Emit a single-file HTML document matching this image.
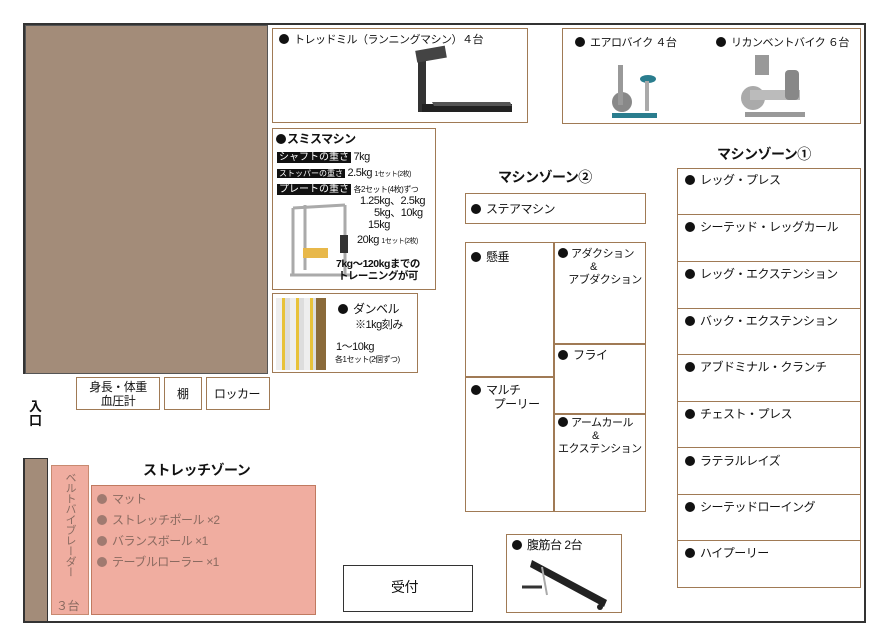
<!DOCTYPE html>
<html><head><meta charset="utf-8"><style>
*{margin:0;padding:0;box-sizing:border-box}
body{width:890px;height:643px;background:#fff;position:relative;overflow:hidden;font-family:"Liberation Sans","Noto Sans CJK JP",sans-serif;color:#111}
.a{position:absolute}
.b{position:absolute;border:1.5px solid #a07a55;background:#fff}
.t{position:absolute;font-size:12px;white-space:nowrap;line-height:14px;letter-spacing:-0.5px}
.dot{display:inline-block;width:10px;height:10px;border-radius:50%;background:#111;margin-right:5px;vertical-align:-1px}
.lab{background:#111;color:#fff;padding:0 2px;font-size:10px;letter-spacing:0}
.row{position:absolute;left:0;width:100%;border-top:1.5px solid #a07a55}
</style></head><body>
<div class="a" style="left:23px;top:23px;width:843px;height:600px;border:2px solid #333"></div>
<div class="a" style="left:20px;top:374px;width:6px;height:84px;background:#fff"></div>
<div class="a" style="left:25px;top:25px;width:243px;height:349px;background:#a38c79;border:1px solid #555"></div>
<div class="a" style="left:24px;top:458px;width:24px;height:164px;background:#a38c79;border:1px solid #333"></div>
<div class="t" style="left:29px;top:400px;font-weight:bold;font-size:13px;line-height:14px">入<br>口</div>

<div class="b" style="left:272px;top:28px;width:256px;height:95px"></div>
<div class="t" style="left:279px;top:33px;font-size:11px"><span class="dot"></span>トレッドミル（ランニングマシン）４台</div>
<svg class="a" style="left:412px;top:44px" width="105" height="72"><rect x="6" y="10" width="8" height="58" fill="#333"/><rect x="4" y="4" width="30" height="12" fill="#444" transform="rotate(-10 20 10)"/><polygon points="10,60 100,60 100,68 10,68" fill="#222"/><polygon points="20,58 98,58 100,62 22,62" fill="#555"/></svg>

<div class="b" style="left:562px;top:28px;width:299px;height:96px"></div>
<div class="t" style="left:575px;top:36px;font-size:11px"><span class="dot"></span>エアロバイク ４台</div>
<div class="t" style="left:716px;top:36px;font-size:11px"><span class="dot"></span>リカンベントバイク ６台</div>
<svg class="a" style="left:600px;top:55px" width="65" height="65"><circle cx="22" cy="47" r="10" fill="#888"/><rect x="18" y="10" width="5" height="40" fill="#999"/><ellipse cx="48" cy="24" rx="8" ry="4" fill="#2a7d8e"/><rect x="12" y="58" width="45" height="5" fill="#2a7d8e"/><rect x="45" y="26" width="4" height="30" fill="#aaa"/></svg>
<svg class="a" style="left:735px;top:50px" width="80" height="70"><rect x="20" y="5" width="14" height="20" fill="#999"/><circle cx="18" cy="48" r="12" fill="#aaa"/><rect x="15" y="40" width="50" height="10" fill="#bbb"/><rect x="50" y="20" width="14" height="30" fill="#888" rx="4"/><rect x="10" y="62" width="60" height="5" fill="#999"/></svg>

<div class="b" style="left:272px;top:128px;width:164px;height:162px"></div>
<div class="t" style="left:276px;top:132px;font-weight:bold"><span class="dot" style="margin-right:1px"></span>スミスマシン</div>
<div class="t" style="left:277px;top:150px;font-size:11px"><span class="lab">シャフトの重さ</span> 7kg</div>
<div class="t" style="left:277px;top:166px;font-size:11px"><span class="lab" style="font-size:8px">ストッパーの重さ</span> 2.5kg <span style="font-size:7px">1セット(2枚)</span></div>
<div class="t" style="left:277px;top:182px;font-size:11px"><span class="lab">プレートの重さ</span> <span style="font-size:8px">各2セット(4枚)ずつ</span></div>
<div class="t" style="left:360px;top:195px;font-size:11px;line-height:12px">1.25kg、2.5kg</div>
<div class="t" style="left:374px;top:207px;font-size:11px;line-height:12px">5kg、10kg</div>
<div class="t" style="left:368px;top:219px;font-size:11px;line-height:12px">15kg</div>
<div class="t" style="left:357px;top:234px;font-size:11px;line-height:12px">20kg <span style="font-size:7px">1セット(2枚)</span></div>
<svg class="a" style="left:285px;top:200px" width="80" height="80"><g stroke="#aaa" stroke-width="3" fill="none"><line x1="8" y1="8" x2="8" y2="75"/><line x1="60" y1="5" x2="60" y2="75"/><line x1="20" y1="5" x2="20" y2="70"/><line x1="8" y1="8" x2="60" y2="5"/><line x1="5" y1="75" x2="65" y2="75"/></g><rect x="18" y="48" width="25" height="10" fill="#e8b84a"/><rect x="55" y="35" width="8" height="18" fill="#333"/></svg>
<div class="t" style="left:336px;top:258px;font-weight:bold;font-size:10.5px;line-height:12px;text-align:center">7kg～120kgまでの<br>トレーニングが可</div>

<div class="b" style="left:272px;top:293px;width:146px;height:80px"></div>
<div class="a" style="left:276px;top:298px;width:50px;height:72px;background:repeating-linear-gradient(90deg,#eee 0 6px,#e8c23a 6px 9px,#ddd 9px 14px);border-right:10px solid #8a6a3a"></div>
<div class="t" style="left:338px;top:302px;font-size:12px"><span class="dot"></span>ダンベル</div>
<div class="t" style="left:355px;top:318px;font-size:11px">※1kg刻み</div>
<div class="t" style="left:336px;top:340px;font-size:11px">1～10kg</div>
<div class="t" style="left:335px;top:353px;font-size:8px">各1セット(2個ずつ)</div>

<div class="b" style="left:76px;top:377px;width:84px;height:33px"></div>
<div class="t" style="left:83px;top:380px;text-align:center;line-height:14px;width:70px">身長・体重<br>血圧計</div>
<div class="b" style="left:164px;top:377px;width:38px;height:33px"></div>
<div class="t" style="left:177px;top:387px">棚</div>
<div class="b" style="left:206px;top:377px;width:64px;height:33px"></div>
<div class="t" style="left:214px;top:387px">ロッカー</div>

<div class="t" style="left:143px;top:462px;font-weight:bold;font-size:14px;line-height:16px">ストレッチゾーン</div>
<div class="a" style="left:51px;top:465px;width:38px;height:150px;background:#f0ada0;border:1.5px solid #c88a70"></div>
<div class="t" style="left:63px;top:472px;writing-mode:vertical-rl;color:#8a6a60;font-size:11px">ベルトバイブレーダー</div>
<div class="t" style="left:56px;top:599px;color:#8a6a60;font-size:12px">３台</div>
<div class="a" style="left:91px;top:485px;width:225px;height:130px;background:#f0ada0;border:1.5px solid #c07a60"></div>
<div class="t" style="left:97px;top:489px;color:#8a6a60;line-height:21px;font-size:12px"><span class="dot" style="background:#a07a70"></span>マット<br><span class="dot" style="background:#a07a70"></span>ストレッチポール ×2<br><span class="dot" style="background:#a07a70"></span>バランスボール ×1<br><span class="dot" style="background:#a07a70"></span>テーブルローラー ×1</div>

<div class="a" style="left:343px;top:565px;width:130px;height:47px;border:1.5px solid #333"></div>
<div class="t" style="left:391px;top:580px;font-size:14px">受付</div>

<div class="t" style="left:498px;top:169px;font-weight:bold;font-size:14px;line-height:16px">マシンゾーン②</div>
<div class="b" style="left:465px;top:193px;width:181px;height:31px"></div>
<div class="t" style="left:471px;top:202px"><span class="dot"></span>ステアマシン</div>
<div class="b" style="left:465px;top:242px;width:181px;height:270px"></div>
<div class="a" style="left:553px;top:242px;width:1.5px;height:270px;background:#a07a55"></div>
<div class="a" style="left:465px;top:376px;width:89px;height:1.5px;background:#a07a55"></div>
<div class="a" style="left:553px;top:343px;width:93px;height:1.5px;background:#a07a55"></div>
<div class="a" style="left:553px;top:413px;width:93px;height:1.5px;background:#a07a55"></div>
<div class="t" style="left:471px;top:250px"><span class="dot"></span>懸垂</div>
<div class="t" style="left:471px;top:383px;line-height:14px"><span class="dot"></span>マルチ<br>&nbsp;&nbsp;&nbsp;&nbsp;&nbsp;&nbsp;&nbsp;&nbsp;プーリー</div>
<div class="t" style="left:558px;top:248px;line-height:13px;font-size:11px"><span class="dot" style="margin-right:3px"></span>アダクション<br><span style="padding-left:32px">&amp;</span><br>&nbsp;&nbsp;&nbsp;&nbsp;アブダクション</div>
<div class="t" style="left:558px;top:348px"><span class="dot"></span>フライ</div>
<div class="t" style="left:558px;top:417px;line-height:13px;font-size:11px"><span class="dot" style="margin-right:3px"></span>アームカール<br><span style="padding-left:34px">&amp;</span><br>エクステンション</div>

<div class="b" style="left:506px;top:534px;width:116px;height:79px"></div>
<div class="t" style="left:512px;top:538px"><span class="dot"></span>腹筋台 2台</div>
<svg class="a" style="left:512px;top:555px" width="100" height="58"><polygon points="20,5 95,45 92,52 18,12" fill="#222"/><line x1="30" y1="12" x2="35" y2="40" stroke="#aaa" stroke-width="2"/><line x1="10" y1="32" x2="30" y2="32" stroke="#333" stroke-width="3"/><circle cx="88" cy="52" r="3" fill="#222"/></svg>

<div class="t" style="left:717px;top:146px;font-weight:bold;font-size:14px;line-height:16px">マシンゾーン①</div>
<div class="b" style="left:677px;top:168px;width:184px;height:420px">
<div class="row" style="top:45px"></div><div class="row" style="top:92px"></div><div class="row" style="top:139px"></div><div class="row" style="top:185px"></div><div class="row" style="top:232px"></div><div class="row" style="top:278px"></div><div class="row" style="top:325px"></div><div class="row" style="top:371px"></div>
</div>
<div class="t" style="left:685px;top:173px"><span class="dot"></span>レッグ・プレス</div>
<div class="t" style="left:685px;top:220px"><span class="dot"></span>シーテッド・レッグカール</div>
<div class="t" style="left:685px;top:267px"><span class="dot"></span>レッグ・エクステンション</div>
<div class="t" style="left:685px;top:314px"><span class="dot"></span>バック・エクステンション</div>
<div class="t" style="left:685px;top:360px"><span class="dot"></span>アブドミナル・クランチ</div>
<div class="t" style="left:685px;top:407px"><span class="dot"></span>チェスト・プレス</div>
<div class="t" style="left:685px;top:454px"><span class="dot"></span>ラテラルレイズ</div>
<div class="t" style="left:685px;top:500px"><span class="dot"></span>シーテッドローイング</div>
<div class="t" style="left:685px;top:546px"><span class="dot"></span>ハイプーリー</div>
</body></html>
